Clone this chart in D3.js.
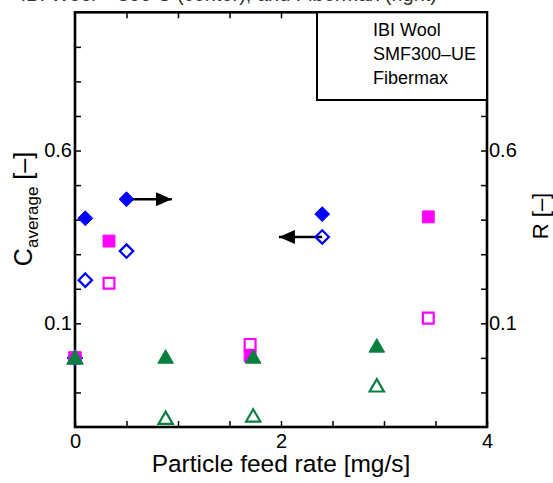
<!DOCTYPE html>
<html>
<head>
<meta charset="utf-8">
<script src="https://cdn.jsdelivr.net/npm/d3@7"></script>
<style>
  body { margin: 0; background: #fff; }
  svg { display: block; font-family: "Liberation Sans", Arial, Helvetica, sans-serif; }
</style>
</head>
<body>
<div id="chart"></div>
<script>
// series data (filled markers = R, open markers = C_average)
var ibiX = [0, 0.1, 0.5, 2.4],
    ibiR = [0, 0.404, 0.459, 0.416],
    ibiC = [0, 0.225, 0.309, 0.35];

var smfX = [0, 0.33, 1.7, 3.43],
    smfR = [0, 0.338, 0.006, 0.408],
    smfC = [0, 0.216, 0.039, 0.115];

var fibX = [0, 0.88, 1.73, 2.93],
    fibR = [0, 0.002, 0.002, 0.034],
    fibC = [0, -0.175, -0.168, -0.081];

var legendNames = ["IBI Wool", "SMF300\u2013UE", "Fibermax"];

var xTicks = [0, 0.5, 1, 1.5, 2, 2.5, 3, 3.5, 4],
    xTickLabels = {0: "0", 2: "2", 4: "4"};
var yTicks = [-0.1, 0, 0.1, 0.2, 0.3, 0.4, 0.5, 0.6, 0.7, 0.8, 0.9],
    yTickLabels = {"0.1": "0.1", "0.6": "0.6"};

var width = 553, height = 483;
var pLeft = 75, pRight = 487, pTop = 12.3, pBottom = 427;

var x = d3.scaleLinear().domain([0, 4]).range([pLeft, pRight]);
var y = d3.scaleLinear().domain([-0.2, 1.0]).range([pBottom, pTop]);

var svg = d3.select("#chart").append("svg")
    .attr("width", width)
    .attr("height", height);

// title, mostly cut off at the top of the picture
svg.append("text")
    .attr("x", 437).attr("y", 1.2)
    .attr("text-anchor", "end")
    .attr("font-size", 20)
    .attr("fill", "#333")
    .text("IBI Wool \u2013 500 C (center), and Fibermax (right)");

function fmt(labels) {
    return function(d) { return labels[String(+d.toFixed(1))] || ""; };
}

function styleAxis(g, size) {
    g.select(".domain").remove();
    g.selectAll(".tick line").attr("stroke", "#000").attr("stroke-width", 1.5);
    g.selectAll(".tick text")
        .attr("fill", "#000")
        .attr("font-size", size)
        .attr("font-family", "Liberation Sans, Arial, sans-serif");
}

svg.append("g")
    .attr("transform", "translate(0," + pBottom + ")")
    .call(d3.axisBottom(x).tickValues(xTicks).tickSize(-6).tickPadding(7)
        .tickFormat(function(d) { return xTickLabels[d] || ""; }))
    .call(styleAxis, 20);

svg.append("g")
    .attr("transform", "translate(0," + pTop + ")")
    .call(d3.axisTop(x).tickValues(xTicks.slice(1, -1)).tickSize(-6).tickFormat(""))
    .call(styleAxis, 20);

svg.append("g")
    .attr("transform", "translate(" + pLeft + ",0)")
    .call(d3.axisLeft(y).tickValues(yTicks).tickSize(-6).tickPadding(3)
        .tickFormat(fmt(yTickLabels)))
    .call(styleAxis, 20);

svg.append("g")
    .attr("transform", "translate(" + pRight + ",0)")
    .call(d3.axisRight(y).tickValues(yTicks).tickSize(-6).tickPadding(2)
        .tickFormat(fmt(yTickLabels)))
    .call(styleAxis, 20);

// frame
svg.append("rect")
    .attr("x", pLeft).attr("y", pTop)
    .attr("width", pRight - pLeft).attr("height", pBottom - pTop)
    .attr("fill", "none").attr("stroke", "#000").attr("stroke-width", 2.6);

// axis titles
svg.append("text")
    .attr("x", x(2)).attr("y", 472)
    .attr("text-anchor", "middle")
    .attr("font-size", 24.5)
    .text("Particle feed rate [mg/s]");

var yl = svg.append("text")
    .attr("transform", "translate(32,209) rotate(-90)")
    .attr("text-anchor", "middle")
    .attr("font-size", 25);
yl.append("tspan").text("C");
yl.append("tspan").attr("font-size", 17).attr("dy", 6).text("average");
yl.append("tspan").attr("dy", -6).text(" [\u2013]");

svg.append("text")
    .attr("transform", "translate(548,216) rotate(-90)")
    .attr("text-anchor", "middle")
    .attr("font-size", 22)
    .text("R [\u2013]");

// legend box
var lg = svg.append("g");
lg.append("rect")
    .attr("x", 317).attr("y", pTop)
    .attr("width", pRight - 317).attr("height", 100 - pTop)
    .attr("fill", "#fff").attr("stroke", "#000").attr("stroke-width", 2);
lg.selectAll("text").data(legendNames).enter().append("text")
    .attr("x", 373)
    .attr("y", function(d, i) { return 36 + i * 24; })
    .attr("font-size", 18)
    .text(function(d) { return d; });

// arrows
svg.append("defs").append("marker")
    .attr("id", "head")
    .attr("viewBox", "0 0 16 14")
    .attr("refX", 16).attr("refY", 7)
    .attr("markerWidth", 16).attr("markerHeight", 14)
    .attr("markerUnits", "userSpaceOnUse")
    .attr("orient", "auto")
    .append("path").attr("d", "M0,0L16,7L0,14Z").attr("fill", "#000");

svg.append("line")
    .attr("x1", x(ibiX[2])).attr("y1", y(ibiR[2]))
    .attr("x2", x(0.94)).attr("y2", y(ibiR[2]))
    .attr("stroke", "#000").attr("stroke-width", 2.5)
    .attr("marker-end", "url(#head)");

svg.append("line")
    .attr("x1", x(ibiX[3])).attr("y1", y(ibiC[3]))
    .attr("x2", x(1.98)).attr("y2", y(ibiC[3]))
    .attr("stroke", "#000").attr("stroke-width", 2.5)
    .attr("marker-end", "url(#head)");

// markers
function points(xs, ys, type, size, color, filled, dy) {
    var sym = d3.symbol().type(type).size(size);
    svg.append("g").selectAll("path")
        .data(xs).enter().append("path")
        .attr("transform", function(d, i) {
            return "translate(" + x(d) + "," + (y(ys[i]) + (dy || 0)) + ")";
        })
        .attr("d", sym)
        .attr("fill", filled ? color : "none")
        .attr("stroke", color)
        .attr("stroke-width", filled ? 1 : 2.2);
}

var blue = "#0000ff", magenta = "#ff00ff", green = "#0a7f40";

points(ibiX, ibiR, d3.symbolDiamond2, 140, blue, true);
points(ibiX, ibiC, d3.symbolDiamond2, 115, blue, false);
points(smfX, smfR, d3.symbolSquare2, 180, magenta, true);
points(smfX, smfC, d3.symbolSquare2, 150, magenta, false);
points(fibX, fibR, d3.symbolTriangle2, 175, green, true, 1.5);
points(fibX, fibC, d3.symbolTriangle2, 145, green, false, 1.5);
</script>
</body>
</html>
